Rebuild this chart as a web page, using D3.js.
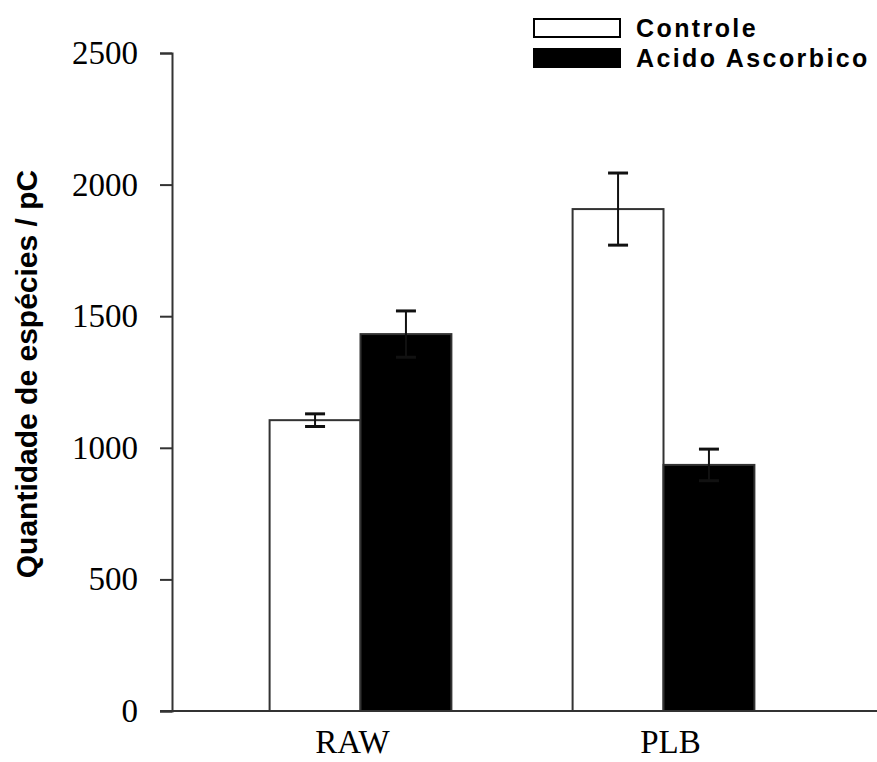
<!DOCTYPE html>
<html>
<head>
<meta charset="utf-8">
<script src="https://cdn.jsdelivr.net/npm/d3@7"></script>
<style>
  body { margin: 0; background: #fff; }
  svg { display: block; }
</style>
</head>
<body>
<div id="chart"></div>
<script>
// data
const groups = ["RAW", "PLB"];
const seriesNames = ["Controle", "Acido Ascorbico"];
const controleValues = [1105, 1907];
const controleErrors = [24, 137];
const acidoValues = [1432, 935];
const acidoErrors = [88, 60];
const yTicks = [0, 500, 1000, 1500, 2000, 2500];

const W = 877, H = 762;
const axisX = 172, baseY = 711, topY = 53;

const svg = d3.select("#chart").append("svg")
    .attr("width", W)
    .attr("height", H);

const y = d3.scaleLinear().domain([0, 2500]).range([baseY, topY]);

const x = d3.scaleBand()
    .domain(groups)
    .range([209, 815])
    .paddingInner(0.4)
    .paddingOuter(0.2);

const xs = d3.scaleBand()
    .domain(seriesNames)
    .range([0, x.bandwidth()]);

const fills = ["#ffffff", "#000000"];

const series = [
    { name: seriesNames[0], values: controleValues, errors: controleErrors, fill: fills[0] },
    { name: seriesNames[1], values: acidoValues, errors: acidoErrors, fill: fills[1] }
];

// bars
series.forEach(s => {
    const g = svg.append("g");
    g.selectAll("rect")
        .data(groups)
        .enter().append("rect")
        .attr("x", d => x(d) + xs(s.name))
        .attr("y", (d, i) => y(s.values[i]))
        .attr("width", xs.bandwidth())
        .attr("height", (d, i) => y(0) - y(s.values[i]))
        .attr("fill", s.fill)
        .attr("stroke", "#333")
        .attr("stroke-width", 2);
});

// error bars
series.forEach(s => {
    const g = svg.append("g").attr("stroke", "#111");
    groups.forEach((d, i) => {
        const cx = x(d) + xs(s.name) + xs.bandwidth() / 2;
        const hi = y(s.values[i] + s.errors[i]);
        const lo = y(s.values[i] - s.errors[i]);
        g.append("line")
            .attr("x1", cx).attr("x2", cx)
            .attr("y1", hi).attr("y2", lo)
            .attr("stroke-width", 2);
        [hi, lo].forEach(yy => {
            g.append("line")
                .attr("x1", cx - 10).attr("x2", cx + 10)
                .attr("y1", yy).attr("y2", yy)
                .attr("stroke-width", 3);
        });
    });
});

// y axis
const yAxis = svg.append("g")
    .attr("transform", "translate(" + axisX + ",0)")
    .call(d3.axisLeft(y).tickValues(yTicks).tickSize(12).tickPadding(22).tickFormat(d3.format("d")));
yAxis.select(".domain").attr("stroke", "#333").attr("stroke-width", 2);
yAxis.selectAll(".tick line").attr("stroke", "#333").attr("stroke-width", 2);
yAxis.selectAll("text")
    .attr("font-family", "'Liberation Serif', 'Times New Roman', serif")
    .attr("font-size", 33)
    .attr("fill", "#000");

// x baseline
svg.append("line")
    .attr("x1", 160).attr("x2", W)
    .attr("y1", baseY).attr("y2", baseY)
    .attr("stroke", "#333")
    .attr("stroke-width", 2);

// x labels (the picture has them slightly off the group centres)
const labelShift = [-8, 7];
svg.append("g")
    .selectAll("text")
    .data(groups)
    .enter().append("text")
    .attr("x", (d, i) => x(d) + x.bandwidth() / 2 + labelShift[i])
    .attr("y", 753)
    .attr("text-anchor", "middle")
    .attr("font-family", "'Liberation Serif', 'Times New Roman', serif")
    .attr("font-size", 33)
    .text(d => d);

// y label
svg.append("text")
    .attr("transform", "translate(37," + 374 + ") rotate(-90)")
    .attr("text-anchor", "middle")
    .attr("font-family", "'Liberation Sans', Arial, sans-serif")
    .attr("font-weight", "bold")
    .attr("font-size", 30)
    .text("Quantidade de espécies / pC");

// legend
const legend = svg.append("g");
series.forEach((s, i) => {
    legend.append("rect")
        .attr("x", 534).attr("y", 19 + i * 30)
        .attr("width", 86).attr("height", 18)
        .attr("fill", s.fill)
        .attr("stroke", "#000")
        .attr("stroke-width", 2);
    legend.append("text")
        .attr("x", 636).attr("y", 37 + i * 30)
        .attr("font-family", "'Liberation Sans', Arial, sans-serif")
        .attr("font-weight", "bold")
        .attr("font-size", 25)
        .attr("letter-spacing", 2.4)
        .text(s.name);
});
</script>
</body>
</html>
